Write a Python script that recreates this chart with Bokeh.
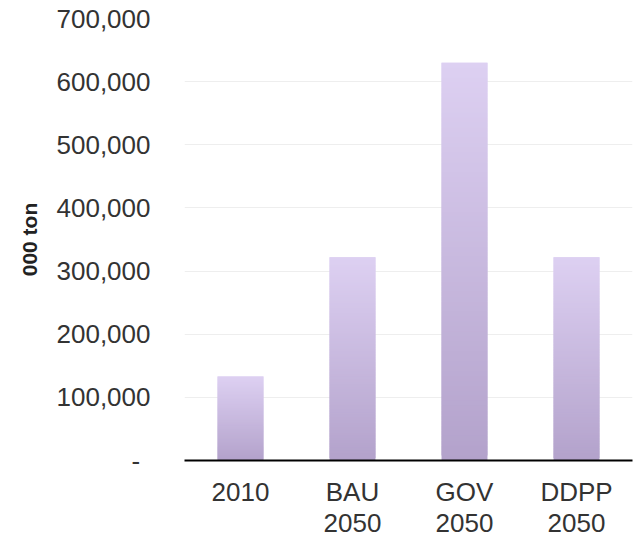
import numpy as np
from bokeh.plotting import figure
from bokeh.models import (FixedTicker, NumeralTickFormatter, CategoricalAxis,
                          ColumnDataSource, CustomJSTickFormatter)
from bokeh.embed import file_html
from bokeh.resources import INLINE

# ---- data ----
categories = ["2010", "BAU", "GOV", "DDPP"]          # first line of the labels
label_line2 = ["", "2050", "2050", "2050"]           # second line of the labels
values = [133000, 322000, 630000, 322000]
y_ticks = [0, 100000, 200000, 300000, 400000, 500000, 600000, 700000]
y_label = "000 ton"

# ---- gradient bars built from the values ----
N = 80
c_bottom = np.array([0xb3, 0xa2, 0xcb])
c_top = np.array([0xdd, 0xd0, 0xf2])
xs, bottoms, tops, colors = [], [], [], []
for cat, v in zip(categories, values):
    for k in range(N):
        t = (k + 0.5) / N
        c = (c_bottom + (c_top - c_bottom) * t).round().astype(int)
        xs.append(cat)
        bottoms.append(v * k / N)
        tops.append(min(v, v * (k + 2) / N))
        colors.append("#%02x%02x%02x" % tuple(c))
src = ColumnDataSource(dict(x=xs, bottom=bottoms, top=tops, color=colors))

FONT = "Liberation Sans"
FS = "26px"

p = figure(x_range=categories, y_range=(0, 700000), width=634, height=539,
           output_backend="svg", toolbar_location=None,
           min_border_left=184, min_border_right=2, min_border_top=18,
           min_border_bottom=79)
p.outline_line_color = None
p.background_fill_color = "white"

p.vbar(x="x", bottom="bottom", top="top", width=0.41, source=src,
       fill_color="color", line_color=None)

# y axis
ya = p.yaxis[0]
ya.ticker = FixedTicker(ticks=y_ticks)
ya.formatter = NumeralTickFormatter(format="0,0")
ya.major_label_overrides = {0: "-\u2009\u2009"}
ya.axis_line_color = None
ya.major_tick_line_color = None
ya.minor_tick_line_color = None
ya.major_label_standoff = 28
ya.major_label_text_font = FONT
ya.major_label_text_font_size = FS
ya.major_label_text_color = "#333333"
ya.axis_label = y_label
ya.axis_label_text_font = FONT
ya.axis_label_text_font_size = "21px"
ya.axis_label_text_font_style = "bold"
ya.axis_label_text_color = "#222222"
ya.axis_label_standoff = 13

# x axis (first line)
xa = p.xaxis[0]
xa.axis_line_color = "black"
xa.axis_line_width = 2
xa.major_tick_line_color = None
xa.minor_tick_line_color = None
xa.major_label_standoff = 10
xa.major_label_text_font = FONT
xa.major_label_text_font_size = FS
xa.major_label_text_color = "#333333"

# x axis (second line)
xa2 = CategoricalAxis()
xa2.formatter = CustomJSTickFormatter(
    args=dict(keys=categories, vals=label_line2),
    code="const i = keys.indexOf(tick); return i >= 0 ? vals[i] : '';")
xa2.axis_line_color = None
xa2.major_tick_line_color = None
xa2.minor_tick_line_color = None
xa2.major_label_standoff = -2
xa2.major_label_text_font = FONT
xa2.major_label_text_font_size = FS
xa2.major_label_text_color = "#333333"
p.add_layout(xa2, "below")

p.xgrid.grid_line_color = None
p.ygrid.grid_line_color = "#eeeeee"
p.ygrid.grid_line_width = 1
p.ygrid.ticker = FixedTicker(ticks=y_ticks[1:])

open("out.html", "w").write(file_html(p, INLINE))
